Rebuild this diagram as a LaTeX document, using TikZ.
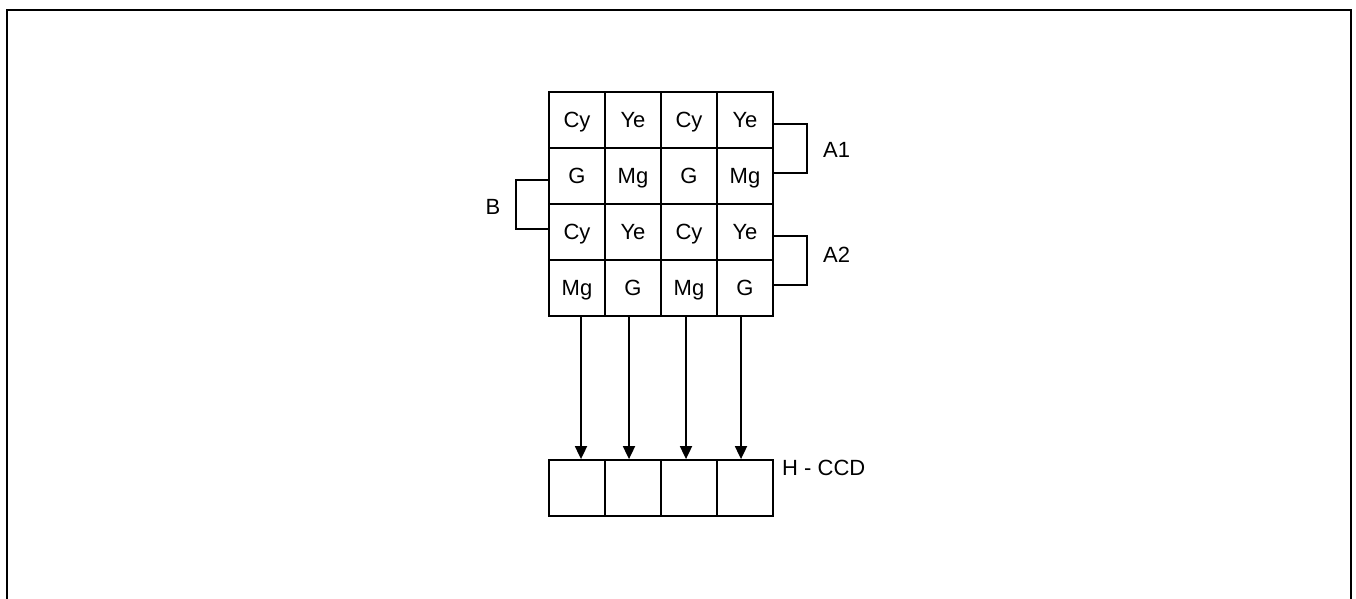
\documentclass[tikz,border=0pt]{standalone}
\usepackage{fontspec}
\setmainfont{Liberation Sans}
\usetikzlibrary{arrows.meta}
\begin{document}
\begin{tikzpicture}[x=1pt,y=-1pt,
  cell/.style={draw,line width=1.8pt,minimum width=56pt,minimum height=56pt,inner sep=0pt,text height=15.8pt,text depth=0pt,font=\fontsize{22}{26}\selectfont},
  lbl/.style={font=\fontsize{22}{26}\selectfont,inner sep=0pt,text height=15.8pt,text depth=0pt},
  wire/.style={line width=1.8pt},
  arr/.style={line width=1.8pt,-{Triangle[width=12pt,length=13pt]}}]
\useasboundingbox (0,0) rectangle (1356,598);
\draw[line width=2pt] (7,600) -- (7,10) -- (1351,10) -- (1351,600);
% CCD grid
\node[cell] (c11) at (577,120) {Cy};
\node[cell] (c12) at (633,120) {Ye};
\node[cell] (c13) at (689,120) {Cy};
\node[cell] (c14) at (745,120) {Ye};
\node[cell] (c21) at (577,176) {G};
\node[cell] (c22) at (633,176) {Mg};
\node[cell] (c23) at (689,176) {G};
\node[cell] (c24) at (745,176) {Mg};
\node[cell] (c31) at (577,232) {Cy};
\node[cell] (c32) at (633,232) {Ye};
\node[cell] (c33) at (689,232) {Cy};
\node[cell] (c34) at (745,232) {Ye};
\node[cell] (c41) at (577,288) {Mg};
\node[cell] (c42) at (633,288) {G};
\node[cell] (c43) at (689,288) {Mg};
\node[cell] (c44) at (745,288) {G};
% H-CCD
\node[cell] (h1) at (577,488) {};
\node[cell] (h2) at (633,488) {};
\node[cell] (h3) at (689,488) {};
\node[cell] (h4) at (745,488) {};
\node[lbl,anchor=west] (hccd) at (782,468) {H - CCD};
% arrows
\draw[arr] ([xshift=4pt]c41.south) -- ([xshift=4pt]h1.north);
\draw[arr] ([xshift=-4pt]c42.south) -- ([xshift=-4pt]h2.north);
\draw[arr] ([xshift=-3pt]c43.south) -- ([xshift=-3pt]h3.north);
\draw[arr] ([xshift=-4pt]c44.south) -- ([xshift=-4pt]h4.north);
% brackets
\draw[wire] ([yshift=-4pt]c14.east) -- ++(33,0) |- ([yshift=3pt]c24.east);
\node[lbl,anchor=west] (a1) at (823,150) {A1};
\draw[wire] ([yshift=-4pt]c34.east) -- ++(33,0) |- ([yshift=3pt]c44.east);
\node[lbl,anchor=west] (a2) at (823,255) {A2};
\draw[wire] ([yshift=-4pt]c21.west) -- ++(-32,0) |- ([yshift=3pt]c31.west);
\node[lbl] (b) at (493,207) {B};
\end{tikzpicture}
\end{document}
